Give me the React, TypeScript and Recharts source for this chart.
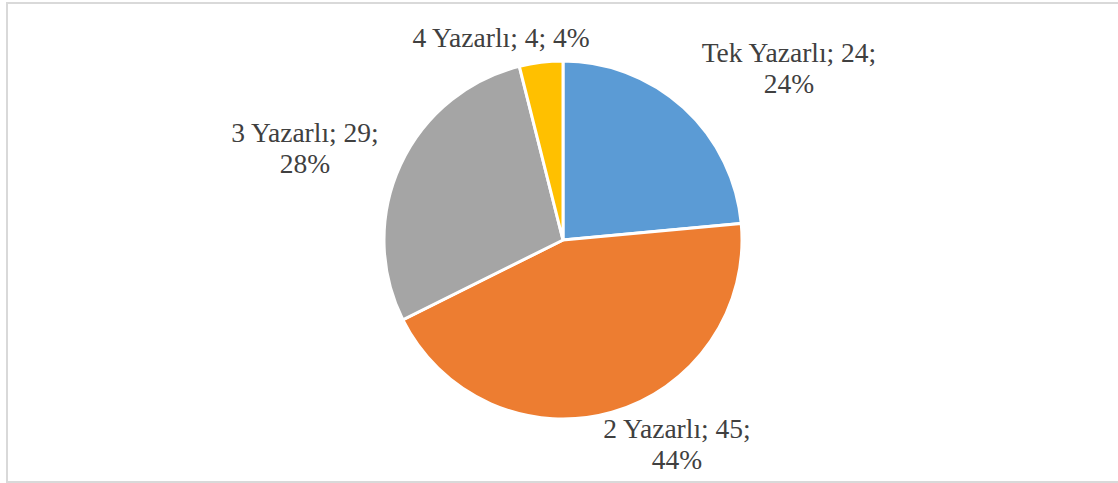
import { PieChart, Pie, Cell } from 'recharts';

const categories = ['Tek Yazarlı', '2 Yazarlı', '3 Yazarlı', '4 Yazarlı'];
const counts = [24, 45, 29, 4];
const colors = ['#5B9BD5', '#ED7D31', '#A5A5A5', '#FFC000'];
// label placement relative to the pie centre (Excel best fit), and whether the % goes on its own line
const labelOffsets = [
    [226, -178],
    [114, 198],
    [-258, -98],
    [-62, -193],
];
const labelWraps = [true, true, true, false];

const data = categories.map((name, i) => ({ name, value: counts[i] }));

const renderLabel = (props: any) => {
    const { cx, cy, index, name, value, percent } = props;
    const [dx, dy] = labelOffsets[index];
    const pct = `${Math.round(percent * 100)}%`;
    const first = `${name}; ${value};`;
    const x = cx + dx;
    const y = cy + dy;
    return (
        <text
            key={`lbl-${index}`}
            x={x}
            y={y}
            textAnchor="middle"
            fill="#404040"
            fontSize={27.5}
            fontFamily="Liberation Serif, Times New Roman, serif"
        >
            {labelWraps[index] ? (
                <>
                    <tspan x={x} y={y}>{first}</tspan>
                    <tspan x={x} y={y + 31}>{pct}</tspan>
                </>
            ) : (
                <tspan x={x} y={y}>{`${first} ${pct}`}</tspan>
            )}
        </text>
    );
};

export default function App() {
    return (
        <div style={{ position: 'absolute', left: 0, top: 0, width: 1118, height: 483, background: '#fff' }}>
            <div
                style={{
                    position: 'absolute',
                    left: 6,
                    top: 2,
                    width: 1120,
                    height: 477,
                    border: '2px solid #d9d9d9',
                }}
            />
            <div style={{ position: 'absolute', left: 0, top: 0 }}>
                <PieChart width={1118} height={483} margin={{ top: 0, right: 0, bottom: 0, left: 0 }}>
                    <Pie
                        data={data}
                        dataKey="value"
                        nameKey="name"
                        cx={563}
                        cy={240}
                        outerRadius={179}
                        startAngle={90}
                        endAngle={-270}
                        stroke="#fff"
                        strokeWidth={3}
                        label={renderLabel}
                        labelLine={false}
                        isAnimationActive={false}
                    >
                        {data.map((d, i) => (
                            <Cell key={d.name} fill={colors[i]} />
                        ))}
                    </Pie>
                </PieChart>
            </div>
        </div>
    );
}
